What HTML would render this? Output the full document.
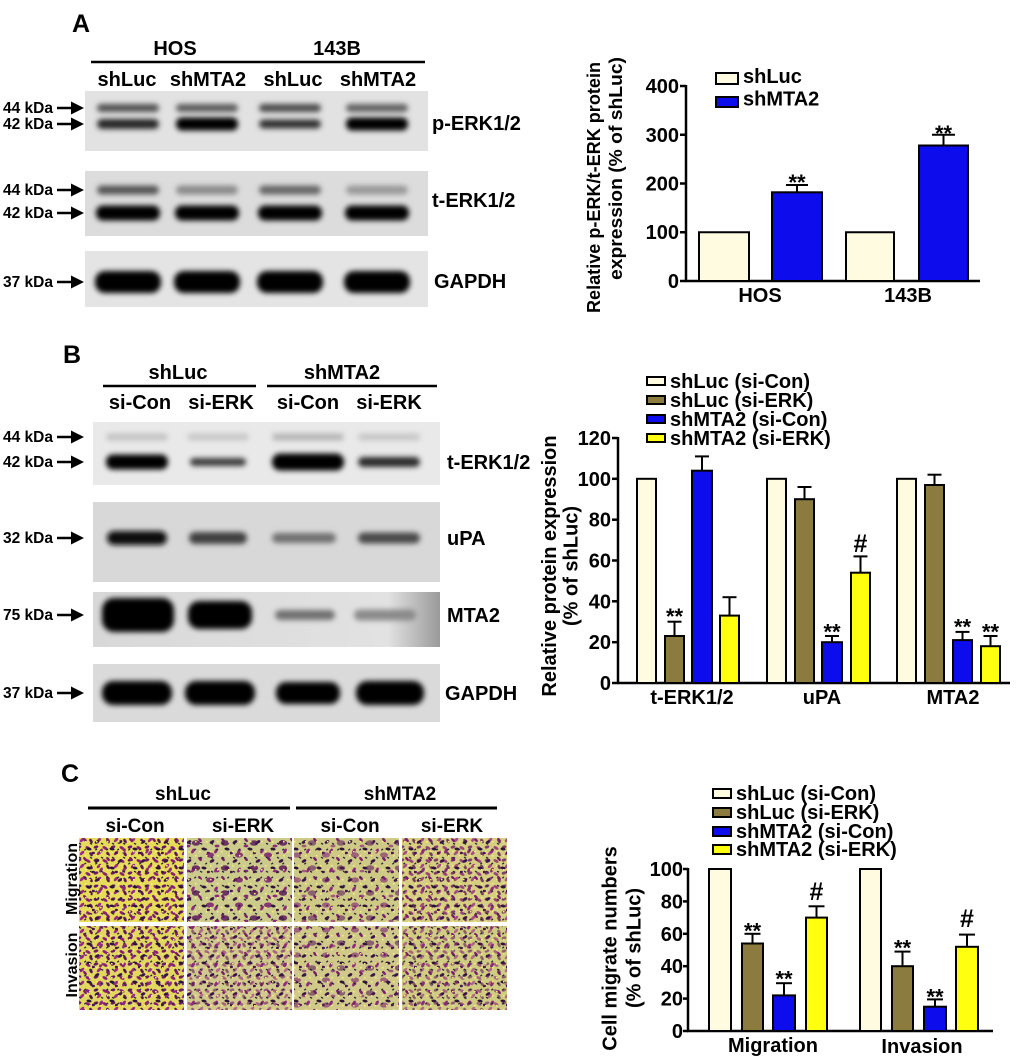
<!DOCTYPE html>
<html><head><meta charset="utf-8"><style>
html,body{margin:0;padding:0;background:#fff;}
svg{display:block;}
</style></head><body>
<svg width="1020" height="1062" viewBox="0 0 1020 1062" xmlns="http://www.w3.org/2000/svg" font-family="'Liberation Sans', Arial, sans-serif" font-weight="bold">
<defs>
<filter id="bl" x="-30%" y="-150%" width="160%" height="400%"><feGaussianBlur stdDeviation="2.6"/></filter>
<g id="arr"><line x1="57" y1="0" x2="74" y2="0" stroke="#000" stroke-width="2.6"/><polygon points="71,-6.5 84,0 71,6.5" fill="#000"/></g>
<linearGradient id="mtaBg" x1="0" x2="1" y1="0" y2="0">
<stop offset="0" stop-color="#d8d8d8"/><stop offset="0.85" stop-color="#e2e2e2"/><stop offset="1" stop-color="#9a9a9a"/>
</linearGradient>
<!-- cell dot layers -->
<pattern id="d1" width="17" height="13" patternUnits="userSpaceOnUse">
<ellipse cx="3" cy="3" rx="2.8" ry="1.5" fill="#8a1f78" transform="rotate(30 3 3)"/>
<ellipse cx="11" cy="2" rx="2.4" ry="1.4" fill="#6a1866" transform="rotate(-20 11 2)"/>
<ellipse cx="14" cy="8" rx="2.8" ry="1.5" fill="#9a2a86" transform="rotate(-45 14 8)"/>
<ellipse cx="6" cy="9" rx="2.5" ry="1.4" fill="#5a1658" transform="rotate(60 6 9)"/>
</pattern>
<pattern id="d2" width="23" height="19" patternUnits="userSpaceOnUse">
<ellipse cx="5" cy="6" rx="2.6" ry="1.5" fill="#3a1448" transform="rotate(-30 5 6)"/>
<ellipse cx="16" cy="4" rx="2.4" ry="1.3" fill="#7a1e6e" transform="rotate(50 16 4)"/>
<ellipse cx="20" cy="13" rx="2.6" ry="1.4" fill="#2e1238" transform="rotate(10 20 13)"/>
<ellipse cx="9" cy="15" rx="2.8" ry="1.5" fill="#8a2a78" transform="rotate(-60 9 15)"/>
<ellipse cx="1" cy="17" rx="2" ry="1.2" fill="#4a1650"/>
</pattern>
<pattern id="dk" width="11" height="14" patternUnits="userSpaceOnUse">
<rect x="2" y="3" width="2.4" height="1.3" fill="#262630" transform="rotate(30 3 3.5)"/>
<rect x="7" y="9" width="2.2" height="1.3" fill="#262630" transform="rotate(-40 8 9.5)"/>
<rect x="8" y="1" width="1.5" height="1.5" fill="#f6f080"/>
<rect x="1" y="11" width="1.6" height="1.4" fill="#f6f080"/>
</pattern>
<pattern id="d3" width="29" height="25" patternUnits="userSpaceOnUse">
<ellipse cx="7" cy="5" rx="4" ry="2.6" fill="#7a1e6e" opacity="0.85"/>
<ellipse cx="22" cy="18" rx="4.2" ry="2.8" fill="#5a1a5a" opacity="0.85"/>
<ellipse cx="14" cy="21" rx="2.4" ry="1.4" fill="#8a2a78"/>
</pattern>
</defs>

<!-- ================= PANEL A ================= -->
<text x="72" y="32" font-size="25">A</text>
<text x="175" y="55" font-size="20" text-anchor="middle">HOS</text>
<text x="337" y="55" font-size="20" text-anchor="middle">143B</text>
<line x1="91" y1="62" x2="425" y2="62" stroke="#000" stroke-width="2.5"/>
<text x="127" y="86" font-size="20" text-anchor="middle">shLuc</text>
<text x="208" y="86" font-size="20" text-anchor="middle">shMTA2</text>
<text x="293" y="86" font-size="20" text-anchor="middle">shLuc</text>
<text x="378" y="86" font-size="20" text-anchor="middle">shMTA2</text>

<rect x="85" y="91" width="343" height="60" fill="#e2e2e2"/>
<g filter="url(#bl)">
<rect x="97" y="104" width="62" height="8" rx="4" fill="#505050"/>
<rect x="176" y="104" width="62" height="8" rx="4" fill="#5a5a5a"/>
<rect x="259" y="104" width="62" height="8" rx="4" fill="#4a4a4a"/>
<rect x="346" y="104" width="62" height="8" rx="4" fill="#5e5e5e"/>
<rect x="97" y="119" width="62" height="10" rx="5" fill="#252525"/>
<rect x="176" y="117.5" width="62" height="13" rx="6" fill="#050505"/>
<rect x="259" y="119.5" width="62" height="9" rx="4.5" fill="#333"/>
<rect x="346" y="117.5" width="62" height="13" rx="6" fill="#050505"/>
</g>
<rect x="85" y="171" width="343" height="65" fill="#dcdcdc"/>
<g filter="url(#bl)">
<rect x="97" y="185.5" width="62" height="9" rx="4.5" fill="#555"/>
<rect x="176" y="185.5" width="62" height="9" rx="4.5" fill="#8a8a8a"/>
<rect x="259" y="185.5" width="62" height="9" rx="4.5" fill="#666"/>
<rect x="346" y="185.5" width="62" height="9" rx="4.5" fill="#999"/>
<rect x="96" y="205.5" width="64" height="15" rx="7" fill="#000"/>
<rect x="175" y="205.5" width="64" height="15" rx="7" fill="#000"/>
<rect x="258" y="205.5" width="64" height="15" rx="7" fill="#000"/>
<rect x="345" y="205.5" width="64" height="15" rx="7" fill="#000"/>
</g>
<rect x="85" y="251" width="343" height="56" fill="#e4e4e4"/>
<g filter="url(#bl)">
<rect x="95" y="271" width="66" height="22" rx="10" fill="#000"/>
<rect x="174" y="271" width="66" height="22" rx="10" fill="#000"/>
<rect x="257" y="271" width="66" height="22" rx="10" fill="#000"/>
<rect x="344" y="271" width="66" height="22" rx="10" fill="#000"/>
</g>
<g font-size="15.5">
<text x="3" y="113">44 kDa</text><use href="#arr" y="108"/>
<text x="3" y="129">42 kDa</text><use href="#arr" y="124"/>
<text x="3" y="195">44 kDa</text><use href="#arr" y="190"/>
<text x="3" y="218">42 kDa</text><use href="#arr" y="213"/>
<text x="3" y="287">37 kDa</text><use href="#arr" y="282"/>
</g>
<text x="432" y="130" font-size="20">p-ERK1/2</text>
<text x="432" y="207" font-size="20">t-ERK1/2</text>
<text x="434" y="288" font-size="20">GAPDH</text>

<!-- chart A -->
<text transform="translate(600,313) rotate(-90)" font-size="18.5" textLength="251" lengthAdjust="spacingAndGlyphs">Relative p-ERK/t-ERK protein</text>
<text transform="translate(622,280) rotate(-90)" font-size="18.5" textLength="223" lengthAdjust="spacingAndGlyphs">expression (% of shLuc)</text>
<g stroke="#000" stroke-width="2.5">
<line x1="686" y1="85" x2="686" y2="282"/>
<line x1="685" y1="281" x2="980" y2="281"/>
<line x1="680" y1="281" x2="686" y2="281"/>
<line x1="680" y1="232.25" x2="686" y2="232.25"/>
<line x1="680" y1="183.5" x2="686" y2="183.5"/>
<line x1="680" y1="134.75" x2="686" y2="134.75"/>
<line x1="680" y1="86" x2="686" y2="86"/>
</g>
<g font-size="20" text-anchor="end">
<text x="679" y="288">0</text>
<text x="679" y="239">100</text>
<text x="679" y="190.5">200</text>
<text x="679" y="142">300</text>
<text x="679" y="93">400</text>
</g>
<g stroke="#000" stroke-width="2">
<rect x="699" y="232.25" width="50" height="48.75" fill="#fffbe0"/>
<rect x="772" y="192.3" width="50" height="88.7" fill="#0c0cec"/>
<rect x="846" y="232.25" width="48" height="48.75" fill="#fffbe0"/>
<rect x="919" y="145.5" width="49" height="135.5" fill="#0c0cec"/>
<line x1="797" y1="192.3" x2="797" y2="185"/><line x1="786" y1="185" x2="808" y2="185"/>
<line x1="943.5" y1="145.5" x2="943.5" y2="134.75"/><line x1="932" y1="134.75" x2="955" y2="134.75"/>
</g>
<text x="797" y="190" font-size="22" text-anchor="middle">**</text>
<text x="943.5" y="141" font-size="22" text-anchor="middle">**</text>
<rect x="716" y="73" width="22" height="11" fill="#fffbe0" stroke="#000" stroke-width="2"/>
<rect x="716" y="97" width="22" height="10" fill="#0c0cec" stroke="#000" stroke-width="2"/>
<text x="743" y="83" font-size="20">shLuc</text>
<text x="743" y="105.5" font-size="20">shMTA2</text>
<text x="760" y="302" font-size="20" text-anchor="middle">HOS</text>
<text x="908" y="302" font-size="20" text-anchor="middle">143B</text>

<!-- ================= PANEL B ================= -->
<text x="63" y="363" font-size="25">B</text>
<text x="178" y="379" font-size="20" text-anchor="middle">shLuc</text>
<text x="342" y="379" font-size="20" text-anchor="middle">shMTA2</text>
<line x1="103" y1="386" x2="256" y2="386" stroke="#000" stroke-width="2.5"/>
<line x1="267" y1="386" x2="437" y2="386" stroke="#000" stroke-width="2.5"/>
<text x="140" y="409" font-size="20" text-anchor="middle">si-Con</text>
<text x="221" y="409" font-size="20" text-anchor="middle">si-ERK</text>
<text x="308" y="409" font-size="20" text-anchor="middle">si-Con</text>
<text x="389" y="409" font-size="20" text-anchor="middle">si-ERK</text>

<rect x="93" y="422" width="347" height="63" fill="#e9e9e9"/>
<g filter="url(#bl)">
<rect x="106" y="433.5" width="62" height="7" rx="3.5" fill="#c2c2c2"/>
<rect x="187" y="433.5" width="62" height="7" rx="3.5" fill="#c8c8c8"/>
<rect x="272" y="433.5" width="72" height="7" rx="3.5" fill="#b5b5b5"/>
<rect x="358" y="433.5" width="62" height="7" rx="3.5" fill="#c6c6c6"/>
<rect x="106" y="454.5" width="62" height="15" rx="7" fill="#000"/>
<rect x="190" y="458" width="56" height="8" rx="4" fill="#3a3a3a"/>
<rect x="272" y="453.5" width="72" height="17" rx="8" fill="#000"/>
<rect x="358" y="457" width="62" height="10" rx="5" fill="#2a2a2a"/>
</g>
<rect x="93" y="502" width="347" height="80" fill="#d8d8d8"/>
<g filter="url(#bl)">
<rect x="107" y="531" width="60" height="14" rx="7" fill="#111"/>
<rect x="189" y="532" width="58" height="12" rx="6" fill="#404040"/>
<rect x="272" y="533" width="64" height="10" rx="5" fill="#707070"/>
<rect x="358" y="532.5" width="62" height="11" rx="5.5" fill="#4a4a4a"/>
</g>
<rect x="93" y="592" width="347" height="55" fill="url(#mtaBg)"/>
<g filter="url(#bl)">
<rect x="102" y="598" width="72" height="34" rx="12" fill="#000"/>
<rect x="188" y="601" width="64" height="28" rx="11" fill="#000"/>
<rect x="275" y="610" width="60" height="10" rx="5" fill="#707070"/>
<rect x="354" y="609.5" width="62" height="11" rx="5.5" fill="#8a8a8a"/>
</g>
<rect x="93" y="664" width="347" height="58" fill="#dadada"/>
<g filter="url(#bl)">
<rect x="102" y="681" width="70" height="24" rx="11" fill="#000"/>
<rect x="185" y="681" width="70" height="24" rx="11" fill="#000"/>
<rect x="276" y="682" width="64" height="22" rx="10" fill="#000"/>
<rect x="356" y="681" width="68" height="24" rx="11" fill="#000"/>
</g>
<g font-size="15.5">
<text x="3" y="442">44 kDa</text><use href="#arr" y="437"/>
<text x="3" y="467">42 kDa</text><use href="#arr" y="462"/>
<text x="3" y="543">32 kDa</text><use href="#arr" y="538"/>
<text x="3" y="620">75 kDa</text><use href="#arr" y="615"/>
<text x="3" y="698">37 kDa</text><use href="#arr" y="693"/>
</g>
<text x="447" y="469" font-size="20">t-ERK1/2</text>
<text x="447" y="545" font-size="20">uPA</text>
<text x="447" y="622" font-size="20">MTA2</text>
<text x="445" y="700" font-size="20">GAPDH</text>

<!-- chart B -->
<text transform="translate(556,566) rotate(-90)" font-size="20" text-anchor="middle">Relative protein expression</text>
<text transform="translate(577.5,566) rotate(-90)" font-size="20" text-anchor="middle">(% of shLuc)</text>
<g stroke="#000" stroke-width="2.5">
<line x1="618" y1="437" x2="618" y2="684"/>
<line x1="617" y1="683" x2="1010" y2="683"/>
<line x1="612" y1="683" x2="618" y2="683"/>
<line x1="612" y1="642.2" x2="618" y2="642.2"/>
<line x1="612" y1="601.3" x2="618" y2="601.3"/>
<line x1="612" y1="560.5" x2="618" y2="560.5"/>
<line x1="612" y1="519.7" x2="618" y2="519.7"/>
<line x1="612" y1="478.8" x2="618" y2="478.8"/>
<line x1="612" y1="438" x2="618" y2="438"/>
</g>
<g font-size="20" text-anchor="end">
<text x="611" y="690">0</text>
<text x="611" y="649.2">20</text>
<text x="611" y="608.3">40</text>
<text x="611" y="567.5">60</text>
<text x="611" y="526.7">80</text>
<text x="611" y="485.8">100</text>
<text x="611" y="445">120</text>
</g>
<g stroke="#000" stroke-width="2">
<rect x="637" y="478.8" width="19" height="204.2" fill="#fffbe0"/>
<rect x="665" y="636" width="19" height="47" fill="#8b7b3e"/>
<rect x="692" y="470.7" width="20" height="212.3" fill="#0c0cec"/>
<rect x="720" y="615.6" width="19" height="67.4" fill="#ffff10"/>
<rect x="767" y="478.8" width="19" height="204.2" fill="#fffbe0"/>
<rect x="795" y="499.2" width="19" height="183.8" fill="#8b7b3e"/>
<rect x="822" y="642.2" width="20" height="40.8" fill="#0c0cec"/>
<rect x="851" y="572.7" width="19" height="110.3" fill="#ffff10"/>
<rect x="897" y="478.8" width="19" height="204.2" fill="#fffbe0"/>
<rect x="925" y="485" width="19" height="198" fill="#8b7b3e"/>
<rect x="953" y="640.1" width="19" height="42.9" fill="#0c0cec"/>
<rect x="981" y="646.2" width="19" height="36.8" fill="#ffff10"/>
<line x1="674.5" y1="636" x2="674.5" y2="621.7"/><line x1="667.5" y1="621.7" x2="681.5" y2="621.7"/>
<line x1="702" y1="470.7" x2="702" y2="456.4"/><line x1="695" y1="456.4" x2="709" y2="456.4"/>
<line x1="729.5" y1="615.6" x2="729.5" y2="597.2"/><line x1="722.5" y1="597.2" x2="736.5" y2="597.2"/>
<line x1="804.5" y1="499.2" x2="804.5" y2="487"/><line x1="797.5" y1="487" x2="811.5" y2="487"/>
<line x1="832" y1="642.2" x2="832" y2="636"/><line x1="825" y1="636" x2="839" y2="636"/>
<line x1="860.5" y1="572.7" x2="860.5" y2="556.4"/><line x1="853.5" y1="556.4" x2="867.5" y2="556.4"/>
<line x1="934.5" y1="485" x2="934.5" y2="474.7"/><line x1="927.5" y1="474.7" x2="941.5" y2="474.7"/>
<line x1="962.5" y1="640.1" x2="962.5" y2="631.9"/><line x1="955.5" y1="631.9" x2="969.5" y2="631.9"/>
<line x1="990.5" y1="646.2" x2="990.5" y2="636"/><line x1="983.5" y1="636" x2="997.5" y2="636"/>
</g>
<g font-size="22" text-anchor="middle">
<text x="674.5" y="624">**</text>
<text x="832" y="639.5">**</text>
<text x="962.5" y="634.5">**</text>
<text x="990.5" y="639.5">**</text>
</g>
<text x="860.5" y="552" font-size="25" text-anchor="middle">#</text>
<g stroke="#000" stroke-width="2">
<rect x="647" y="377" width="18" height="8" fill="#fffbe0"/>
<rect x="647" y="396" width="18" height="8" fill="#8b7b3e"/>
<rect x="647" y="415" width="18" height="8" fill="#0c0cec"/>
<rect x="647" y="434" width="18" height="8" fill="#ffff10"/>
</g>
<g font-size="20">
<text x="670" y="388">shLuc (si-Con)</text>
<text x="670" y="407">shLuc (si-ERK)</text>
<text x="670" y="426">shMTA2 (si-Con)</text>
<text x="670" y="445">shMTA2 (si-ERK)</text>
</g>
<g font-size="20" text-anchor="middle">
<text x="692" y="704">t-ERK1/2</text>
<text x="822" y="704">uPA</text>
<text x="953" y="704">MTA2</text>
</g>

<!-- ================= PANEL C ================= -->
<text x="61" y="782" font-size="25">C</text>
<text x="183" y="800" font-size="19" text-anchor="middle">shLuc</text>
<text x="400" y="800" font-size="19" text-anchor="middle">shMTA2</text>
<line x1="88" y1="808" x2="290" y2="808" stroke="#000" stroke-width="3"/>
<line x1="296" y1="808" x2="497" y2="808" stroke="#000" stroke-width="3"/>
<g font-size="19" text-anchor="middle">
<text x="135" y="832">si-Con</text>
<text x="243" y="832">si-ERK</text>
<text x="350" y="832">si-Con</text>
<text x="452" y="832">si-ERK</text>
</g>
<!-- row 1 -->
<rect x="79" y="838" width="105" height="84" fill="#e6dc58"/>
<rect x="79" y="838" width="105" height="84" fill="url(#d1)"/>
<rect x="79" y="838" width="105" height="84" fill="url(#d2)"/>
<rect x="79" y="838" width="105" height="84" fill="url(#dk)"/>
<rect x="187" y="838" width="105" height="84" fill="#cccb8c"/>
<rect x="187" y="838" width="105" height="84" fill="url(#d2)"/>
<rect x="187" y="838" width="105" height="84" fill="url(#d3)"/>
<rect x="187" y="838" width="105" height="84" fill="url(#dk)"/>
<rect x="294" y="838" width="105" height="84" fill="#cfc986"/>
<rect x="294" y="838" width="105" height="84" fill="url(#d2)"/>
<rect x="294" y="838" width="105" height="84" fill="url(#dk)"/>
<rect x="294" y="838" width="105" height="84" fill="url(#d3)" opacity="0.7"/>
<rect x="402" y="838" width="105" height="84" fill="#d6ce80"/>
<rect x="402" y="838" width="105" height="84" fill="url(#d1)" opacity="0.8"/>
<rect x="402" y="838" width="105" height="84" fill="url(#d2)"/>
<rect x="402" y="838" width="105" height="84" fill="url(#dk)"/>
<!-- row 2 -->
<rect x="79" y="926" width="105" height="84" fill="#e2d860"/>
<rect x="79" y="926" width="105" height="84" fill="url(#d1)"/>
<rect x="79" y="926" width="105" height="84" fill="url(#d2)"/>
<rect x="79" y="926" width="105" height="84" fill="url(#dk)"/>
<rect x="187" y="926" width="105" height="84" fill="#d2c98c"/>
<rect x="187" y="926" width="105" height="84" fill="url(#d2)"/>
<rect x="187" y="926" width="105" height="84" fill="url(#d1)" opacity="0.6"/>
<rect x="187" y="926" width="105" height="84" fill="url(#dk)"/>
<rect x="294" y="926" width="105" height="84" fill="#d0c98a"/>
<rect x="294" y="926" width="105" height="84" fill="url(#d2)"/>
<rect x="294" y="926" width="105" height="84" fill="url(#d3)" opacity="0.7"/>
<rect x="294" y="926" width="105" height="84" fill="url(#dk)"/>
<rect x="402" y="926" width="105" height="84" fill="#d0cc82"/>
<rect x="402" y="926" width="105" height="84" fill="url(#d2)"/>
<rect x="402" y="926" width="105" height="84" fill="url(#d1)" opacity="0.6"/>
<rect x="402" y="926" width="105" height="84" fill="url(#dk)"/>
<text transform="translate(77,879) rotate(-90)" font-size="16" text-anchor="middle">Migration</text>
<text transform="translate(77,965) rotate(-90)" font-size="16" text-anchor="middle">Invasion</text>

<!-- chart C -->
<text transform="translate(616.5,948.5) rotate(-90)" font-size="20" text-anchor="middle">Cell migrate numbers</text>
<text transform="translate(640.5,948) rotate(-90)" font-size="20" text-anchor="middle">(% of shLuc)</text>
<g stroke="#000" stroke-width="2.5">
<line x1="688" y1="868" x2="688" y2="1032"/>
<line x1="687" y1="1031" x2="993" y2="1031"/>
<line x1="683" y1="1031" x2="688" y2="1031"/>
<line x1="683" y1="998.6" x2="688" y2="998.6"/>
<line x1="683" y1="966.2" x2="688" y2="966.2"/>
<line x1="683" y1="933.8" x2="688" y2="933.8"/>
<line x1="683" y1="901.4" x2="688" y2="901.4"/>
<line x1="683" y1="869" x2="688" y2="869"/>
</g>
<g font-size="20" text-anchor="end">
<text x="683" y="1038">0</text>
<text x="683" y="1005.6">20</text>
<text x="683" y="973.2">40</text>
<text x="683" y="940.8">60</text>
<text x="683" y="908.4">80</text>
<text x="683" y="876">100</text>
</g>
<g stroke="#000" stroke-width="2">
<rect x="709" y="869" width="22" height="162" fill="#fffbe0"/>
<rect x="742" y="943.5" width="21" height="87.5" fill="#8b7b3e"/>
<rect x="773" y="995.4" width="22" height="35.6" fill="#0c0cec"/>
<rect x="806" y="917.6" width="21" height="113.4" fill="#ffff10"/>
<rect x="860" y="869" width="21" height="162" fill="#fffbe0"/>
<rect x="892" y="966.2" width="21" height="64.8" fill="#8b7b3e"/>
<rect x="924" y="1006.7" width="22" height="24.3" fill="#0c0cec"/>
<rect x="956" y="946.8" width="22" height="84.2" fill="#ffff10"/>
<line x1="752.5" y1="943.5" x2="752.5" y2="933.8"/><line x1="744.5" y1="933.8" x2="760.5" y2="933.8"/>
<line x1="784" y1="995.4" x2="784" y2="983.2"/><line x1="776" y1="983.2" x2="792" y2="983.2"/>
<line x1="816.5" y1="917.6" x2="816.5" y2="906.3"/><line x1="808.5" y1="906.3" x2="824.5" y2="906.3"/>
<line x1="902.5" y1="966.2" x2="902.5" y2="951.6"/><line x1="894.5" y1="951.6" x2="910.5" y2="951.6"/>
<line x1="935" y1="1006.7" x2="935" y2="999.4"/><line x1="927" y1="999.4" x2="943" y2="999.4"/>
<line x1="967" y1="946.8" x2="967" y2="934.6"/><line x1="959" y1="934.6" x2="975" y2="934.6"/>
</g>
<g font-size="22" text-anchor="middle">
<text x="752.5" y="938.5">**</text>
<text x="784" y="986.5">**</text>
<text x="902.5" y="955.5">**</text>
<text x="935" y="1004.5">**</text>
</g>
<g font-size="25" text-anchor="middle">
<text x="816.5" y="900">#</text>
<text x="967" y="927">#</text>
</g>
<g stroke="#000" stroke-width="2">
<rect x="713" y="789" width="18" height="9" fill="#fffbe0"/>
<rect x="713" y="808" width="18" height="9" fill="#8b7b3e"/>
<rect x="713" y="827" width="18" height="9" fill="#0c0cec"/>
<rect x="713" y="845" width="18" height="9" fill="#ffff10"/>
</g>
<g font-size="20">
<text x="736" y="800">shLuc (si-Con)</text>
<text x="736" y="819">shLuc (si-ERK)</text>
<text x="736" y="838">shMTA2 (si-Con)</text>
<text x="736" y="856">shMTA2 (si-ERK)</text>
</g>
<text x="773" y="1052" font-size="20" text-anchor="middle">Migration</text>
<text x="922" y="1053" font-size="20" text-anchor="middle">Invasion</text>
</svg>
</body></html>
